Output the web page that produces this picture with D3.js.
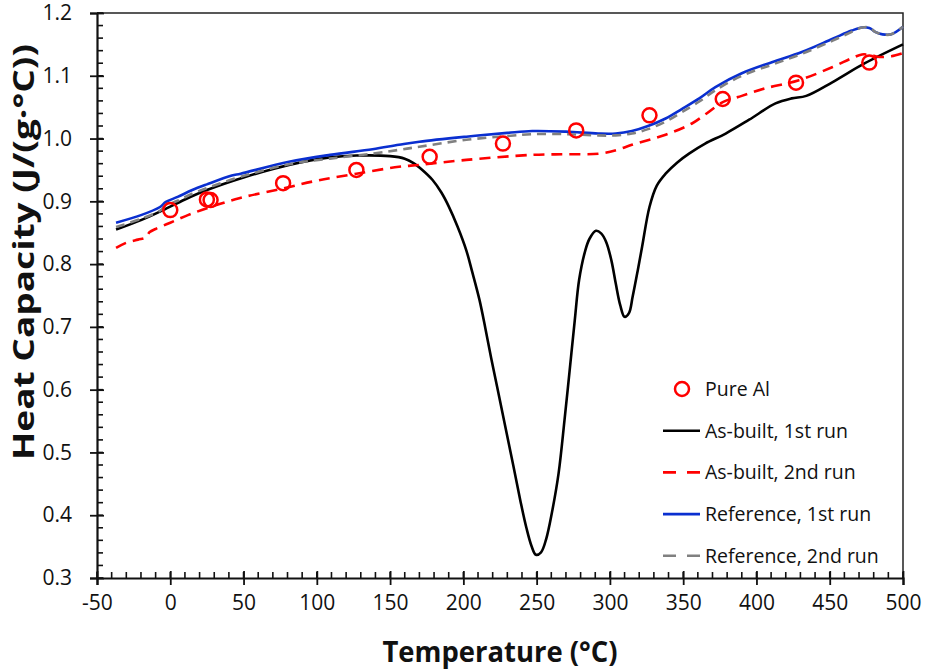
<!DOCTYPE html>
<html>
<head>
<meta charset="utf-8">
<script src="https://cdn.jsdelivr.net/npm/d3@7"></script>
<style>
  body { margin: 0; background: #fff; }
  text { font-family: "Open Sans", sans-serif; fill: #111; }
</style>
</head>
<body>
<div id="chart"></div>
<script>
var svgWidth = 927;
var svgHeight = 672;

var margin = { top: 13, right: 24, bottom: 94, left: 97 };
var width = svgWidth - margin.left - margin.right;
var height = svgHeight - margin.top - margin.bottom;

// Pure Al reference points
var pureAlT = [0, 25, 27.5, 77, 127, 177, 227, 277, 327, 377, 427, 477];
var pureAlCp = [0.886, 0.903, 0.902, 0.929, 0.950, 0.971, 0.992, 1.013, 1.037, 1.063, 1.089, 1.121];

// As-built, 1st run
var asBuilt1T = [-37, -20, -5, 10, 25, 50, 81, 109, 127, 150, 160, 166, 172, 179, 185, 190, 196, 202,
  206, 211, 215, 219, 223, 228, 234, 239, 243, 246.5, 249.5, 253, 256.5, 260.5, 265, 269, 272.5, 276, 279,
  283, 286, 290.5, 294, 297.5, 301, 304, 307, 310, 313, 315.5, 319, 322, 327, 332, 338, 346, 354,
  365, 379, 395, 413, 424, 434, 452, 474, 500];
var asBuilt1Cp = [0.855, 0.870, 0.886, 0.903, 0.918, 0.938, 0.958, 0.970, 0.973, 0.972, 0.968, 0.961,
  0.950, 0.934, 0.914, 0.892, 0.860, 0.822, 0.788, 0.743, 0.698, 0.650, 0.605, 0.548, 0.480, 0.422,
  0.380, 0.351, 0.337, 0.341, 0.362, 0.405, 0.467, 0.551, 0.630, 0.710, 0.775, 0.820, 0.840, 0.853, 0.849,
  0.835, 0.806, 0.769, 0.735, 0.716, 0.722, 0.748, 0.790, 0.828, 0.891, 0.925, 0.944, 0.962, 0.976,
  0.992, 1.008, 1.030, 1.056, 1.064, 1.068, 1.090, 1.120, 1.150];

// As-built, 2nd run
var asBuilt2T = [-37, -30, -22, -17, -14, -10, 0, 12, 25, 47, 76, 100, 127, 156, 170, 202, 247, 270,
  293, 305, 315, 338, 356, 366, 377, 390, 406, 429, 452, 465, 472, 478, 484, 492, 500];
var asBuilt2Cp = [0.826, 0.834, 0.839, 0.842, 0.851, 0.856, 0.866, 0.878, 0.889, 0.905, 0.920, 0.933,
  0.944, 0.955, 0.958, 0.966, 0.974, 0.975, 0.976, 0.982, 0.990, 1.006, 1.024, 1.040, 1.058, 1.068,
  1.080, 1.093, 1.114, 1.128, 1.134, 1.133, 1.130, 1.131, 1.136];

// Reference, 1st run
var ref1T = [-37, -20, -7, -3, 5, 15, 25, 42, 48, 81, 109, 138, 156, 170, 202, 230, 247, 270, 292,
  304, 315, 326, 338, 349, 361, 372, 390, 411, 431, 452, 465, 472, 477, 481, 486, 492, 500];
var ref1Cp = [0.866, 0.878, 0.891, 0.899, 0.907, 0.918, 0.927, 0.941, 0.944, 0.963, 0.974, 0.983,
  0.990, 0.995, 1.003, 1.009, 1.012, 1.011, 1.008, 1.008, 1.012, 1.020, 1.032, 1.047, 1.064, 1.082,
  1.104, 1.122, 1.138, 1.159, 1.172, 1.177, 1.176, 1.170, 1.166, 1.166, 1.178];

// Reference, 2nd run
var ref2T = [-37, -20, -7, -3, 5, 15, 25, 48, 81, 109, 138, 156, 170, 202, 230, 247, 270, 292, 304,
  315, 326, 338, 349, 361, 372, 390, 411, 431, 452, 465, 472, 477, 481, 486, 492, 500];
var ref2Cp = [0.859, 0.872, 0.885, 0.893, 0.901, 0.912, 0.921, 0.939, 0.959, 0.968, 0.976, 0.982,
  0.987, 0.998, 1.004, 1.007, 1.007, 1.005, 1.005, 1.008, 1.015, 1.027, 1.042, 1.059, 1.077, 1.100,
  1.118, 1.135, 1.156, 1.170, 1.177, 1.177, 1.170, 1.166, 1.166, 1.178];

var xTicks = [-50, 0, 50, 100, 150, 200, 250, 300, 350, 400, 450, 500];
var yTicks = [0.3, 0.4, 0.5, 0.6, 0.7, 0.8, 0.9, 1.0, 1.1, 1.2];

var legendLabels = ["Pure Al", "As-built, 1st run", "As-built, 2nd run", "Reference, 1st run", "Reference, 2nd run"];

function zip(xs, ys) {
  return xs.map(function(x, i) { return { t: x, cp: ys[i] }; });
}

var svg = d3.select("#chart")
  .append("svg")
  .attr("width", svgWidth)
  .attr("height", svgHeight);

var chartGroup = svg.append("g")
  .attr("transform", `translate(${margin.left}, ${margin.top})`);

var xLinearScale = d3.scaleLinear().domain([-50, 500]).range([0, width]);
var yLinearScale = d3.scaleLinear().domain([0.3, 1.2]).range([height, 0]);

// frame (top and right)
chartGroup.append("path")
  .attr("d", `M0,0H${width}V${height}`)
  .attr("fill", "none")
  .attr("stroke", "#222")
  .attr("stroke-width", 1.5);

// minor ticks
var xMinor = d3.range(-50, 501, 10);
var yMinor = d3.range(0.3, 1.2001, 0.02);

chartGroup.append("g")
  .selectAll("line")
  .data(xMinor)
  .enter()
  .append("line")
  .attr("x1", d => xLinearScale(d))
  .attr("x2", d => xLinearScale(d))
  .attr("y1", height)
  .attr("y2", height - 6)
  .attr("stroke", "#111")
  .attr("stroke-width", 1.6);

chartGroup.append("g")
  .selectAll("line")
  .data(yMinor)
  .enter()
  .append("line")
  .attr("x1", 0)
  .attr("x2", 6)
  .attr("y1", d => yLinearScale(d))
  .attr("y2", d => yLinearScale(d))
  .attr("stroke", "#111")
  .attr("stroke-width", 1.6);

// axes with crossing major ticks
var bottomAxis = d3.axisBottom(xLinearScale)
  .tickValues(xTicks)
  .tickSize(7)
  .tickPadding(10)
  .tickFormat(d => String(d));   // plain hyphen for -50

var leftAxis = d3.axisLeft(yLinearScale)
  .tickValues(yTicks)
  .tickSize(7)
  .tickPadding(18)
  .tickFormat(d3.format(".1f"));

var xAxis = chartGroup.append("g")
  .attr("transform", `translate(0, ${height})`)
  .call(bottomAxis);

var yAxis = chartGroup.append("g")
  .call(leftAxis);

[xAxis, yAxis].forEach(function(ax) {
  ax.select(".domain").attr("stroke", "#111").attr("stroke-width", 2.2);
  ax.selectAll(".tick line").attr("stroke", "#111").attr("stroke-width", 1.8);
  ax.selectAll(".tick text")
    .attr("font-family", "Open Sans, sans-serif")
    .attr("font-size", 21)
    .attr("fill", "#111");
});
xAxis.selectAll(".tick line").attr("y1", -7);
yAxis.selectAll(".tick line").attr("x1", 7);

// lines
var line = d3.line()
  .x(d => xLinearScale(d.t))
  .y(d => yLinearScale(d.cp))
  .curve(d3.curveCatmullRom.alpha(0.5));

var series = [
  { data: zip(asBuilt1T, asBuilt1Cp), color: "#000000", dash: null },
  { data: zip(asBuilt2T, asBuilt2Cp), color: "#ff0000", dash: "11,7" },
  { data: zip(ref1T, ref1Cp), color: "#0a2fd0", dash: null },
  { data: zip(ref2T, ref2Cp), color: "#808080", dash: "9,6" }
];

series.forEach(function(s) {
  chartGroup.append("path")
    .datum(s.data)
    .attr("d", line)
    .attr("fill", "none")
    .attr("stroke", s.color)
    .attr("stroke-width", 2.6)
    .attr("stroke-dasharray", s.dash);
});

chartGroup.append("g")
  .selectAll("circle")
  .data(zip(pureAlT, pureAlCp))
  .enter()
  .append("circle")
  .attr("cx", d => xLinearScale(d.t))
  .attr("cy", d => yLinearScale(d.cp))
  .attr("r", 7)
  .attr("fill", "none")
  .attr("stroke", "#ff0000")
  .attr("stroke-width", 2.5);

// legend
var legend = svg.append("g").attr("transform", "translate(663, 389)");
var legendStyles = [
  { type: "circle", color: "#ff0000" },
  { type: "line", color: "#000000", dash: null },
  { type: "line", color: "#ff0000", dash: "13,11" },
  { type: "line", color: "#0a2fd0", dash: null },
  { type: "line", color: "#808080", dash: "13,11" }
];

legendLabels.forEach(function(label, i) {
  var row = legend.append("g").attr("transform", `translate(0, ${i * 41.7})`);
  var st = legendStyles[i];
  if (st.type === "circle") {
    row.append("circle")
      .attr("cx", 19).attr("cy", 0).attr("r", 7)
      .attr("fill", "none").attr("stroke", st.color).attr("stroke-width", 2.5);
  } else {
    row.append("line")
      .attr("x1", 0).attr("x2", 37).attr("y1", 0).attr("y2", 0)
      .attr("stroke", st.color).attr("stroke-width", 2.6)
      .attr("stroke-dasharray", st.dash);
  }
  row.append("text")
    .attr("x", 42)
    .attr("y", 0)
    .attr("dy", "0.35em")
    .attr("font-size", 19.5)
    .text(label);
});

// axis titles
svg.append("text")
  .attr("x", 500)
  .attr("y", 662)
  .attr("text-anchor", "middle")
  .attr("font-size", 29)
  .attr("font-weight", "bold")
  .attr("textLength", 235)
  .attr("lengthAdjust", "spacingAndGlyphs")
  .text("Temperature (°C)");

svg.append("text")
  .attr("transform", "translate(34, 252) rotate(-90)")
  .attr("text-anchor", "middle")
  .attr("font-size", 29)
  .attr("font-weight", "bold")
  .attr("textLength", 416)
  .attr("lengthAdjust", "spacingAndGlyphs")
  .text("Heat Capacity (J/(g·°C))");
</script>
</body>
</html>
